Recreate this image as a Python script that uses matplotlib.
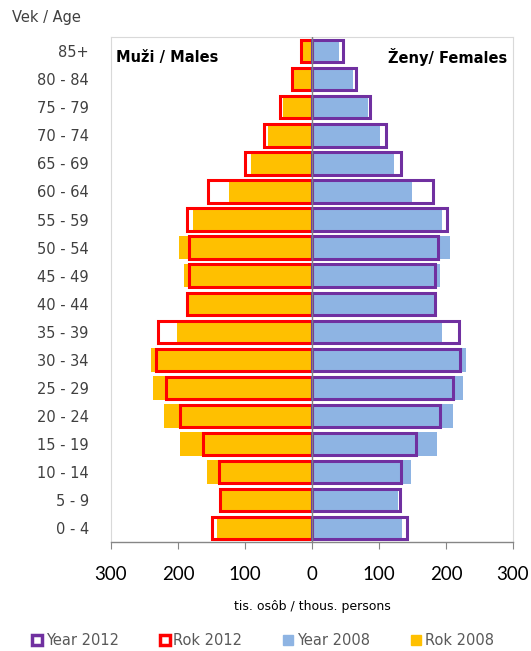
import numpy as np
import matplotlib.pyplot as plt
from matplotlib.patches import Patch

# age groups, bottom to top
ages = ['0 - 4', '5 - 9', '10 - 14', '15 - 19', '20 - 24', '25 - 29', '30 - 34',
        '35 - 39', '40 - 44', '45 - 49', '50 - 54', '55 - 59', '60 - 64',
        '65 - 69', '70 - 74', '75 - 79', '80 - 84', '85+']

# thousands of persons
males_2012 = [149.5, 138, 139, 162.5, 197.5, 218.5, 232.5, 230, 187, 183, 183.5,
              186.5, 155, 100, 71.5, 47, 29.5, 16]
males_2008 = [141.5, 136, 156, 197, 220.5, 237, 240.5, 202, 188, 191.5, 199,
              177, 124, 90.5, 65.5, 43, 27, 13]
females_2012 = [142.5, 131, 132.5, 155, 190.5, 210, 221, 219.5, 183.5, 184, 188,
                202, 181, 133.5, 110.5, 86, 66, 47]
females_2008 = [134.5, 129, 147.5, 187, 211, 226, 230.5, 194.5, 184.5, 191, 206,
                193.5, 149.5, 122, 101, 84, 62, 40.5]

yellow = '#FFC000'
blue = '#8EB4E3'
red = '#FF0000'
purple = '#7030A0'
grey_txt = '#404040'

fig = plt.figure(figsize=(5.31, 6.51), dpi=100)
ax = fig.add_axes([0.209, 0.167, 0.757, 0.776])

y = np.arange(len(ages))
m12 = -np.array(males_2012)
m08 = -np.array(males_2008)

ax.barh(y, m08, height=0.84, color=yellow, zorder=2)
ax.barh(y, females_2008, height=0.84, color=blue, zorder=2)
ax.barh(y, m12, height=0.8, fill=False, edgecolor=red, linewidth=2.2, zorder=3)
ax.barh(y, females_2012, height=0.8, fill=False, edgecolor=purple, linewidth=2.2, zorder=3)
ax.axvline(0, color='#808080', linewidth=1.0, zorder=4)

ax.set_xlim(-300, 300)
ax.set_ylim(-0.5, 17.5)
ax.set_yticks(y)
ax.set_yticklabels(ages, fontsize=10.5, color=grey_txt)
ax.tick_params(axis='y', length=0, pad=16)

ticks = [-300, -200, -100, 0, 100, 200, 300]
ax.set_xticks(ticks)
ax.set_xticklabels([str(abs(t)) for t in ticks], fontsize=13.5, family='Lato')
ax.tick_params(axis='x', direction='out', length=5, width=0.8, color='#868686', pad=12)

for s in ['top', 'left', 'right']:
    ax.spines[s].set_color('#D9D9D9')
ax.spines['bottom'].set_color('#868686')
ax.spines['bottom'].set_linewidth(1.0)

ax.set_xlabel('tis. osôb / thous. persons', fontsize=9, labelpad=12)

ax.text(0.013, 0.975, 'Muži / Males', transform=ax.transAxes, fontsize=10.5,
        fontweight='bold', va='top', ha='left')
ax.text(0.985, 0.978, 'Ženy/ Females', transform=ax.transAxes, fontsize=10.5,
        fontweight='bold', va='top', ha='right')

fig.text(0.022, 0.973, 'Vek / Age', fontsize=10.5, color=grey_txt, va='center')

handles = [
    Patch(facecolor='white', edgecolor=purple, linewidth=2.5, label='Year 2012'),
    Patch(facecolor='white', edgecolor=red, linewidth=2.5, label='Rok 2012'),
    Patch(facecolor=blue, edgecolor=blue, label='Year 2008'),
    Patch(facecolor=yellow, edgecolor=yellow, label='Rok 2008'),
]
fig.legend(handles=handles, loc='center', bbox_to_anchor=(0.495, 0.016), ncol=4,
           frameon=False, fontsize=10.5, handlelength=0.7, handleheight=0.7,
           handletextpad=0.25, columnspacing=2.8, labelcolor='#595959')

fig.savefig('out.png', dpi=100)
